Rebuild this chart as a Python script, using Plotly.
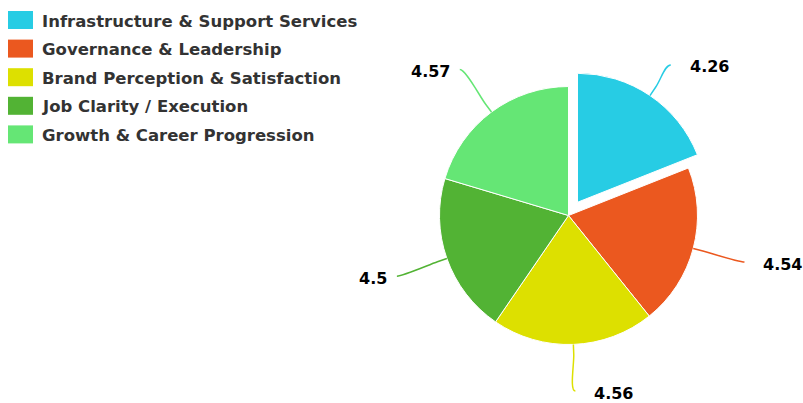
import math
import plotly.graph_objects as go

categories = ["Infrastructure & Support Services", "Governance & Leadership",
              "Brand Perception & Satisfaction", "Job Clarity / Execution",
              "Growth & Career Progression"]
values = [4.26, 4.54, 4.56, 4.5, 4.57]
colors = ["#27CCE4", "#EB581F", "#DDE000", "#52B334", "#65E675"]
pulls = [0.124, 0, 0, 0, 0]

W, H = 803, 403
CX, CY, R = 568.5, 215.5, 129.0
half = R * (1 + max(pulls))

fig = go.Figure(go.Pie(
    labels=categories, values=values, sort=False, direction="clockwise",
    rotation=0, pull=pulls, textinfo="none", hoverinfo="label+value",
    marker=dict(colors=colors, line=dict(color="white", width=1)),
    domain=dict(x=[(CX - half) / W, (CX + half) / W],
                y=[(H - CY - half) / H, (H - CY + half) / H]),
    showlegend=False,
))

def px(x, y):
    return x / W, 1 - y / H

shapes, annotations = [], []
total = sum(values)
cum = 0.0
for v, c, p in zip(values, colors, pulls):
    mid = (cum + v / 2) / total * 2 * math.pi
    cum += v
    sx, sy = math.sin(mid), -math.cos(mid)
    ox, oy = CX + sx * R * p, CY + sy * R * p
    S = (ox + sx * R, oy + sy * R)
    B = (ox + sx * (R + 10), oy + sy * (R + 10))
    C2 = (2 * B[0] - S[0], 2 * B[1] - S[1])
    E = [CX + sx * 182, CY + sy * 182]
    E[1] = min(E[1], H - 12)
    right = sx >= 0
    C1 = (E[0] + (-6 if right else 6), E[1])
    pts = [E, C1, C2, B, S]
    pp = [px(*q) for q in pts]
    path = "M {:.5f},{:.5f} C {:.5f},{:.5f} {:.5f},{:.5f} {:.5f},{:.5f} L {:.5f},{:.5f}".format(
        pp[0][0], pp[0][1], pp[1][0], pp[1][1], pp[2][0], pp[2][1], pp[3][0], pp[3][1], pp[4][0], pp[4][1])
    shapes.append(dict(type="path", xref="paper", yref="paper", path=path,
                       line=dict(color=c, width=1.5)))
    tx = E[0] + 17 if right else E[0] - 8
    ax, ay = px(tx, E[1] + 2)
    annotations.append(dict(x=ax, y=ay, xref="paper", yref="paper", showarrow=False,
                            text=str(v), xanchor="left" if right else "right", yanchor="middle",
                            font=dict(family="DejaVu Sans", size=16, weight="bold", color="#000000")))

for i, (name, c) in enumerate(zip(categories, colors)):
    yc = 20 + i * 28.6
    x0, y0 = px(8, yc - 9)
    x1, y1 = px(33, yc + 9)
    shapes.append(dict(type="rect", xref="paper", yref="paper", x0=x0, x1=x1, y0=y1, y1=y0,
                       fillcolor=c, line=dict(width=0)))
    ax, ay = px(40, yc + 1)
    annotations.append(dict(x=ax, y=ay, xref="paper", yref="paper", showarrow=False,
                            text=name, xanchor="left", yanchor="middle",
                            font=dict(family="DejaVu Sans", size=16.5, weight="bold", color="#333333")))

fig.update_layout(width=W, height=H, margin=dict(l=0, r=0, t=0, b=0),
                  paper_bgcolor="white", plot_bgcolor="white",
                  shapes=shapes, annotations=annotations)
fig.write_html("out.html", config={"displayModeBar": False},
               post_script="document.body.style.margin='0';")
